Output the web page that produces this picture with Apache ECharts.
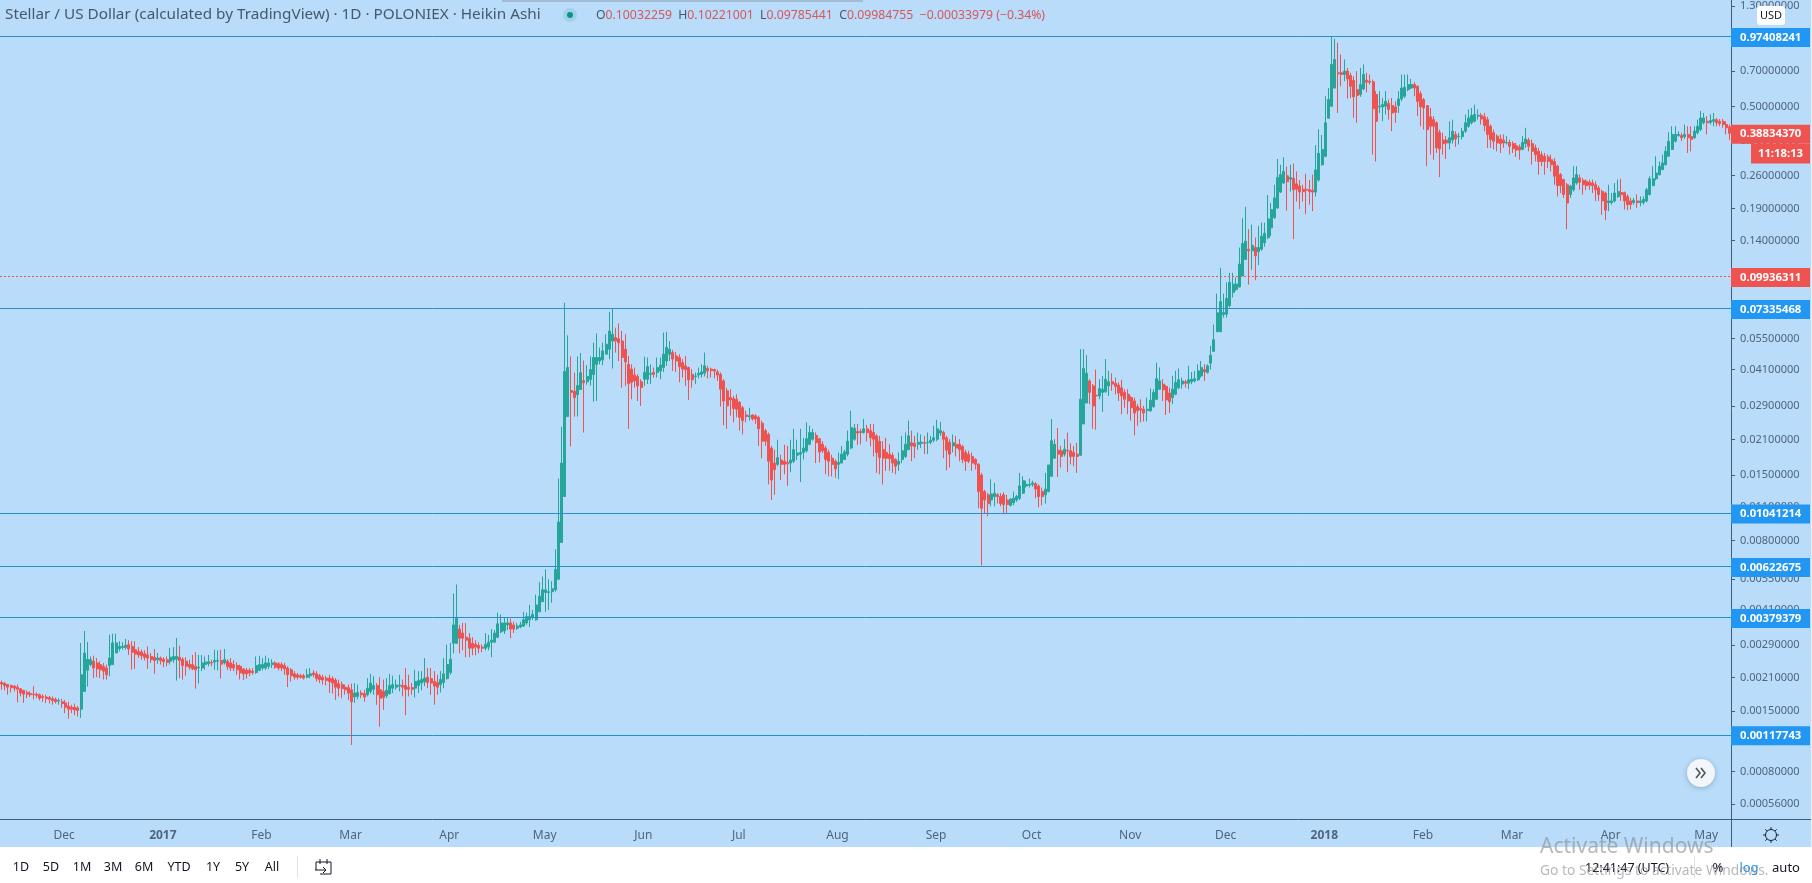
<!DOCTYPE html>
<html><head><meta charset="utf-8"><title>XLM/USD</title>
<style>html,body{margin:0;padding:0;background:#fff}#c{width:1812px;height:883px}</style>
<script src="https://cdn.jsdelivr.net/npm/echarts@6/dist/echarts.min.js"></script></head>
<body><div id="c"></div>
<script>
// every row: [open, close, low, high]
const nov2016=[[.00200,.00197,.00186,.00204],[.00199,.00194,.00185,.00200],[.00196,.00191,.00177,.00197],[.00194,.00190,.00181,.00196],[.00193,.00189,.00183,.00195],[.00191,.00187,.00164,.00196],[.00188,.00180,.00174,.00187],[.00185,.00178,.00163,.00186],[.00181,.00178,.00171,.00185],[.00179,.00177,.00173,.00183],[.00178,.00177,.00169,.00193],[.00178,.00176,.00171,.00181],[.00177,.00171,.00167,.00179],[.00174,.00172,.00165,.00178],[.00173,.00170,.00163,.00177],[.00172,.00169,.00162,.00175],[.00170,.00167,.00160,.00174],[.00169,.00165,.00162,.00172],[.00166,.00167,.00160,.00171],[.00165,.00162,.00155,.00170]];
const dec2016=[[.00163,.00156,.00147,.00168],[.00158,.00153,.00139,.00165],[.00156,.00153,.00147,.00160],[.00156,.00152,.00144,.00162],[.00155,.00151,.00142,.00158],[.00153,.00216,.00140,.00296],[.00183,.00268,.00183,.00333],[.00226,.00252,.00192,.00299],[.00239,.00251,.00235,.00259],[.00247,.00231,.00209,.00261],[.00243,.00229,.00211,.00255],[.00239,.00227,.00209,.00247],[.00235,.00224,.00206,.00243],[.00231,.00216,.00206,.00239],[.00237,.00255,.00213,.00321],[.00239,.00296,.00239,.00324],[.00268,.00296,.00268,.00324],[.00280,.00286,.00272,.00301],[.00283,.00286,.00277,.00298],[.00283,.00289,.00277,.00308],[.00291,.00279,.00263,.00304],[.00286,.00270,.00227,.00301],[.00277,.00265,.00229,.00301],[.00272,.00263,.00255,.00284],[.00271,.00261,.00251,.00277],[.00266,.00257,.00249,.00275],[.00263,.00255,.00229,.00286],[.00259,.00251,.00243,.00268],[.00257,.00249,.00218,.00279],[.00251,.00255,.00241,.00268],[.00255,.00249,.00239,.00259]];
const jan2017=[[.00252,.00246,.00233,.00257],[.00251,.00244,.00235,.00259],[.00247,.00257,.00239,.00282],[.00251,.00259,.00243,.00284],[.00252,.00259,.00204,.00311],[.00257,.00249,.00209,.00288],[.00252,.00237,.00206,.00257],[.00247,.00235,.00214,.00257],[.00240,.00233,.00227,.00251],[.00239,.00229,.00226,.00263],[.00235,.00227,.00188,.00270],[.00231,.00233,.00198,.00263],[.00231,.00243,.00224,.00263],[.00239,.00245,.00227,.00259],[.00241,.00246,.00235,.00263],[.00244,.00243,.00235,.00251],[.00245,.00249,.00227,.00277],[.00247,.00249,.00226,.00275],[.00249,.00240,.00208,.00277],[.00243,.00251,.00239,.00279],[.00247,.00234,.00226,.00252],[.00243,.00231,.00224,.00255],[.00239,.00231,.00224,.00249],[.00237,.00227,.00216,.00244],[.00235,.00220,.00206,.00239],[.00229,.00218,.00205,.00231],[.00226,.00218,.00208,.00231],[.00226,.00220,.00213,.00231],[.00224,.00221,.00216,.00231],[.00221,.00237,.00218,.00259],[.00226,.00239,.00224,.00261]];
const feb2017=[[.00231,.00239,.00226,.00255],[.00231,.00243,.00227,.00261],[.00235,.00243,.00229,.00255],[.00239,.00243,.00231,.00252],[.00243,.00233,.00229,.00247],[.00241,.00231,.00226,.00245],[.00239,.00231,.00224,.00245],[.00237,.00229,.00216,.00243],[.00231,.00216,.00191,.00235],[.00227,.00214,.00202,.00231],[.00218,.00211,.00206,.00224],[.00216,.00211,.00206,.00220],[.00214,.00211,.00208,.00218],[.00214,.00209,.00206,.00218],[.00211,.00216,.00209,.00229],[.00214,.00218,.00209,.00231],[.00220,.00216,.00211,.00226],[.00218,.00208,.00202,.00224],[.00214,.00206,.00199,.00218],[.00211,.00205,.00196,.00216],[.00209,.00204,.00194,.00214],[.00209,.00202,.00180,.00216],[.00208,.00199,.00179,.00213],[.00205,.00191,.00168,.00209],[.00198,.00189,.00174,.00206],[.00196,.00188,.00171,.00202],[.00191,.00186,.00177,.00196],[.00190,.00180,.00168,.00196]];
const mar2017=[[.00186,.00165,.00106,.00198],[.00173,.00180,.00163,.00199],[.00174,.00181,.00169,.00196],[.00180,.00177,.00171,.00185],[.00179,.00173,.00165,.00186],[.00177,.00189,.00174,.00209],[.00183,.00199,.00179,.00218],[.00187,.00194,.00177,.00213],[.00194,.00177,.00160,.00199],[.00186,.00171,.00128,.00211],[.00183,.00172,.00152,.00206],[.00175,.00185,.00171,.00209],[.00179,.00194,.00177,.00218],[.00189,.00196,.00180,.00214],[.00191,.00195,.00186,.00206],[.00193,.00195,.00183,.00216],[.00194,.00191,.00174,.00206],[.00194,.00187,.00144,.00231],[.00191,.00187,.00174,.00216],[.00190,.00187,.00177,.00199],[.00189,.00202,.00172,.00227],[.00194,.00204,.00180,.00224],[.00199,.00206,.00185,.00224],[.00201,.00209,.00193,.00255],[.00211,.00200,.00189,.00231],[.00208,.00199,.00177,.00231],[.00202,.00193,.00160,.00224],[.00200,.00191,.00177,.00216],[.00196,.00206,.00181,.00224],[.00200,.00218,.00189,.00255],[.00208,.00239,.00206,.00291]];
const apr2017=[[.00221,.00252,.00216,.00296],[.00295,.00353,.00267,.00479],[.00295,.00379,.00295,.00523],[.00339,.00310,.00267,.00353],[.00326,.00310,.00275,.00360],[.00313,.00304,.00257,.00360],[.00310,.00281,.00257,.00326],[.00295,.00281,.00262,.00313],[.00292,.00284,.00262,.00304],[.00289,.00281,.00267,.00298],[.00284,.00281,.00270,.00292],[.00281,.00292,.00275,.00326],[.00284,.00298,.00275,.00320],[.00298,.00304,.00257,.00339],[.00298,.00326,.00298,.00336],[.00313,.00357,.00310,.00398],[.00330,.00360,.00326,.00391],[.00333,.00360,.00323,.00379],[.00353,.00360,.00336,.00379],[.00360,.00339,.00310,.00375],[.00353,.00339,.00326,.00364],[.00342,.00349,.00336,.00360],[.00346,.00353,.00342,.00364],[.00349,.00371,.00346,.00401],[.00360,.00383,.00353,.00398],[.00371,.00383,.00346,.00429],[.00379,.00391,.00371,.00409],[.00371,.00429,.00368,.00474],[.00401,.00466,.00401,.00535],[.00443,.00497,.00443,.00565]];
const may2017=[[.00484,.00497,.00401,.00605],[.00484,.00488,.00409,.00550],[.00488,.00502,.00438,.00540],[.00497,.00605,.00488,.00735],[.00550,.00955,.00550,.0145],[.00785,.0168,.00785,.0238],[.0122,.0403,.0122,.0775],[.0262,.0418,.0262,.0568],[.0336,.0330,.0197,.0465],[.0333,.0314,.0262,.0398],[.0323,.0352,.0262,.0465],[.0339,.0398,.0339,.0480],[.0369,.0362,.0225,.0447],[.0365,.0384,.0355,.0428],[.0373,.0410,.0352,.0465],[.0391,.0460,.0302,.0530],[.0431,.0460,.0304,.0578],[.0445,.0460,.0431,.0506],[.0450,.0490,.0428,.0530],[.0475,.0522,.0475,.0574],[.0498,.0592,.0453,.0710],[.0538,.0574,.0414,.0732],[.0556,.0538,.0482,.0611],[.0550,.0530,.0445,.0637],[.0538,.0460,.0345,.0592],[.0498,.0441,.0351,.0574],[.0431,.0359,.0233,.0467],[.0412,.0363,.0309,.0431],[.0389,.0368,.0345,.0418],[.0384,.0351,.0304,.0392],[.0365,.0345,.0290,.0374]];
const jun2017=[[.0374,.0399,.0351,.0464],[.0374,.0422,.0357,.0460],[.0392,.0395,.0357,.0431],[.0399,.0392,.0380,.0418],[.0399,.0418,.0380,.0460],[.0405,.0428,.0374,.0460],[.0418,.0475,.0401,.0583],[.0445,.0506,.0425,.0587],[.0475,.0498,.0445,.0538],[.0482,.0453,.0405,.0495],[.0467,.0445,.0401,.0485],[.0460,.0422,.0363,.0475],[.0438,.0412,.0380,.0453],[.0425,.0410,.0351,.0467],[.0418,.0372,.0307,.0422],[.0392,.0372,.0345,.0412],[.0384,.0386,.0357,.0399],[.0389,.0396,.0377,.0418],[.0392,.0401,.0380,.0431],[.0396,.0425,.0384,.0482],[.0414,.0405,.0377,.0425],[.0412,.0406,.0380,.0418],[.0410,.0404,.0377,.0414],[.0401,.0389,.0368,.0410],[.0392,.0340,.0288,.0399],[.0368,.0304,.0241,.0374],[.0335,.0290,.0233,.0345],[.0314,.0307,.0264,.0340],[.0311,.0283,.0248,.0319],[.0309,.0281,.0260,.0324]];
const jul2017=[[.0300,.0260,.0229,.0304],[.0285,.0252,.0221,.0290],[.0266,.0262,.0248,.0277],[.0262,.0264,.0252,.0285],[.0266,.0256,.0252,.0268],[.0264,.0256,.0244,.0268],[.0260,.0233,.0198,.0264],[.0246,.0207,.0176,.0252],[.0229,.0207,.0198,.0233],[.0221,.0171,.0137,.0225],[.0194,.0143,.0118,.0198],[.0168,.0158,.0124,.0191],[.0166,.0177,.0163,.0210],[.0173,.0166,.0143,.0182],[.0171,.0166,.0151,.0200],[.0169,.0167,.0135,.0198],[.0168,.0173,.0154,.0210],[.0171,.0191,.0168,.0233],[.0181,.0185,.0173,.0210],[.0183,.0186,.0140,.0233],[.0186,.0194,.0174,.0214],[.0189,.0212,.0186,.0248],[.0201,.0225,.0199,.0240],[.0211,.0225,.0208,.0233],[.0219,.0204,.0168,.0225],[.0212,.0187,.0169,.0214],[.0201,.0189,.0185,.0207],[.0194,.0174,.0151,.0198],[.0186,.0171,.0148,.0191],[.0176,.0166,.0148,.0182],[.0171,.0159,.0146,.0174]];
const aug2017=[[.0166,.0169,.0144,.0186],[.0168,.0183,.0168,.0198],[.0174,.0187,.0173,.0191],[.0183,.0207,.0179,.0229],[.0194,.0236,.0192,.0277],[.0211,.0234,.0208,.0244],[.0227,.0224,.0200,.0244],[.0227,.0225,.0201,.0233],[.0225,.0233,.0223,.0256],[.0233,.0225,.0207,.0242],[.0229,.0214,.0197,.0244],[.0225,.0211,.0179,.0244],[.0218,.0186,.0153,.0221],[.0207,.0177,.0151,.0218],[.0191,.0176,.0137,.0207],[.0186,.0176,.0156,.0214],[.0183,.0175,.0156,.0201],[.0181,.0168,.0153,.0186],[.0174,.0163,.0151,.0176],[.0166,.0171,.0156,.0186],[.0174,.0189,.0168,.0218],[.0179,.0201,.0176,.0225],[.0191,.0218,.0190,.0252],[.0204,.0198,.0171,.0229],[.0203,.0197,.0176,.0218],[.0201,.0205,.0191,.0225],[.0203,.0205,.0194,.0221],[.0204,.0203,.0183,.0218],[.0204,.0205,.0183,.0225],[.0205,.0209,.0201,.0218],[.0209,.0214,.0205,.0240]];
const sep2017=[[.0211,.0233,.0207,.0254],[.0224,.0229,.0218,.0249],[.0225,.0211,.0176,.0229],[.0214,.0190,.0157,.0218],[.0205,.0183,.0161,.0211],[.0198,.0204,.0186,.0221],[.0201,.0194,.0179,.0218],[.0201,.0191,.0171,.0211],[.0197,.0174,.0168,.0200],[.0186,.0171,.0156,.0191],[.0183,.0171,.0168,.0189],[.0179,.0168,.0156,.0186],[.0174,.0166,.0158,.0176],[.0166,.0128,.0109,.0168],[.0150,.0109,.00630,.0153],[.0128,.0118,.0104,.0130],[.0124,.0114,.0101,.0126],[.0118,.0125,.0111,.0144],[.0122,.0126,.0111,.0139],[.0124,.0122,.0114,.0126],[.0122,.0114,.0111,.0126],[.0124,.0113,.0103,.0127],[.0118,.0113,.0104,.0124],[.0112,.0119,.0111,.0120],[.0115,.0120,.0112,.0128],[.0118,.0122,.0116,.0124],[.0120,.0135,.0118,.0153],[.0126,.0142,.0125,.0148],[.0135,.0137,.0133,.0142],[.0136,.0137,.0133,.0145]];
const oct2017=[[.0137,.0139,.0134,.0142],[.0138,.0131,.0120,.0140],[.0135,.0122,.0110,.0137],[.0128,.0122,.0112,.0133],[.0124,.0131,.0114,.0153],[.0128,.0165,.0127,.0165],[.0148,.0208,.0148,.0256],[.0176,.0201,.0175,.0211],[.0190,.0183,.0147,.0235],[.0189,.0179,.0161,.0198],[.0183,.0192,.0179,.0211],[.0190,.0189,.0154,.0225],[.0189,.0179,.0166,.0203],[.0186,.0179,.0163,.0198],[.0183,.0179,.0153,.0204],[.0181,.0309,.0181,.0498],[.0244,.0414,.0244,.0498],[.0298,.0396,.0298,.0470],[.0368,.0330,.0295,.0374],[.0351,.0290,.0233,.0357],[.0321,.0319,.0231,.0410],[.0319,.0342,.0309,.0374],[.0330,.0340,.0274,.0386],[.0332,.0374,.0328,.0453],[.0351,.0365,.0319,.0405],[.0365,.0357,.0335,.0396],[.0360,.0349,.0324,.0380],[.0354,.0328,.0304,.0363],[.0345,.0319,.0268,.0372],[.0330,.0309,.0285,.0340],[.0324,.0304,.0268,.0340]];
const nov2017=[[.0314,.0285,.0252,.0319],[.0304,.0271,.0219,.0314],[.0288,.0277,.0240,.0295],[.0283,.0279,.0248,.0309],[.0281,.0271,.0250,.0290],[.0277,.0281,.0250,.0314],[.0277,.0306,.0274,.0342],[.0288,.0330,.0285,.0340],[.0309,.0376,.0307,.0438],[.0340,.0368,.0338,.0418],[.0357,.0338,.0304,.0374],[.0349,.0307,.0266,.0354],[.0328,.0302,.0271,.0345],[.0314,.0340,.0295,.0386],[.0324,.0363,.0321,.0405],[.0345,.0372,.0340,.0414],[.0357,.0368,.0342,.0380],[.0365,.0360,.0345,.0372],[.0360,.0372,.0340,.0425],[.0365,.0374,.0357,.0401],[.0368,.0376,.0363,.0405],[.0372,.0405,.0368,.0431],[.0386,.0418,.0380,.0445],[.0410,.0401,.0368,.0431],[.0399,.0425,.0395,.0431],[.0436,.0470,.0410,.0514],[.0488,.0545,.0488,.0630],[.0588,.0704,.0588,.0845],[.0588,.0783,.0588,.108],[.0692,.0706,.0673,.0845]];
const dec2017=[[.0695,.0807,.0673,.094],[.0753,.094,.0741,.103],[.0855,.0925,.0815,.103],[.088,.0925,.0867,.0985],[.090,.112,.0895,.131],[.100,.136,.100,.173],[.117,.139,.117,.193],[.129,.127,.092,.156],[.127,.134,.106,.163],[.131,.121,.096,.144],[.126,.131,.111,.161],[.129,.146,.127,.166],[.137,.150,.132,.166],[.144,.172,.142,.216],[.158,.188,.146,.200],[.174,.210,.172,.238],[.191,.255,.189,.304],[.222,.262,.220,.288],[.242,.270,.240,.309],[.259,.245,.186,.283],[.251,.255,.223,.288],[.253,.227,.142,.291],[.240,.228,.203,.270],[.235,.222,.189,.249],[.228,.223,.203,.238],[.228,.226,.180,.264],[.227,.223,.197,.249],[.226,.222,.185,.262],[.222,.274,.213,.347],[.249,.321,.245,.403],[.288,.333,.285,.382]];
const jan2018=[[.312,.429,.309,.552],[.448,.535,.448,.597],[.502,.747,.499,.974],[.597,.783,.593,.953],[.690,.683,.471,.917],[.690,.679,.607,.821],[.679,.701,.637,.783],[.701,.651,.540,.723],[.672,.607,.543,.690],[.641,.549,.449,.668],[.588,.556,.429,.701],[.561,.617,.549,.723],[.592,.679,.584,.747],[.643,.631,.574,.690],[.637,.631,.617,.679],[.633,.490,.317,.647],[.561,.435,.297,.579],[.499,.502,.471,.579],[.499,.510,.435,.543],[.502,.526,.464,.579],[.515,.487,.442,.535],[.505,.471,.396,.543],[.499,.474,.429,.526],[.505,.538,.471,.579],[.538,.597,.526,.679],[.552,.601,.543,.679],[.588,.617,.579,.679],[.597,.617,.592,.651],[.617,.597,.552,.631],[.607,.526,.457,.611],[.566,.499,.415,.579]];
const feb2018=[[.535,.494,.402,.543],[.505,.402,.284,.505],[.454,.415,.317,.494],[.442,.415,.302,.457],[.429,.338,.322,.435],[.392,.335,.256,.402],[.364,.352,.317,.390],[.364,.354,.304,.378],[.354,.372,.333,.435],[.364,.396,.352,.442],[.384,.368,.341,.396],[.376,.378,.349,.390],[.376,.396,.366,.409],[.396,.429,.390,.464],[.415,.449,.409,.487],[.429,.460,.422,.494],[.435,.464,.431,.510],[.457,.460,.442,.487],[.460,.445,.422,.471],[.454,.418,.396,.471],[.442,.384,.338,.454],[.415,.366,.338,.422],[.390,.360,.333,.402],[.378,.354,.327,.384],[.368,.352,.322,.384],[.364,.354,.338,.384],[.354,.356,.349,.378],[.356,.343,.317,.366]];
const mar2018=[[.352,.335,.322,.360],[.345,.331,.310,.354],[.341,.331,.302,.349],[.333,.356,.331,.378],[.352,.368,.338,.409],[.364,.343,.327,.372],[.352,.327,.288,.366],[.338,.317,.297,.349],[.327,.297,.262,.338],[.317,.297,.284,.327],[.312,.297,.262,.322],[.310,.297,.279,.317],[.302,.288,.270,.317],[.297,.258,.238,.307],[.284,.236,.213,.288],[.262,.236,.220,.266],[.250,.217,.210,.252],[.238,.200,.156,.242],[.217,.235,.210,.238],[.227,.254,.223,.284],[.242,.262,.238,.284],[.254,.244,.227,.262],[.248,.238,.217,.254],[.246,.236,.226,.250],[.244,.237,.227,.250],[.242,.236,.220,.250],[.238,.227,.204,.246],[.231,.217,.204,.236],[.223,.204,.179,.227],[.220,.187,.170,.223],[.201,.204,.185,.238]];
const apr2018=[[.201,.204,.197,.220],[.204,.220,.201,.242],[.213,.223,.210,.250],[.221,.217,.204,.252],[.221,.204,.188,.223],[.213,.197,.187,.217],[.204,.197,.188,.210],[.201,.205,.197,.210],[.204,.201,.191,.217],[.201,.204,.194,.213],[.201,.207,.197,.213],[.204,.227,.201,.231],[.217,.252,.215,.258],[.236,.252,.235,.284],[.252,.266,.248,.312],[.262,.284,.260,.297],[.275,.293,.273,.317],[.288,.327,.286,.343],[.312,.360,.310,.392],[.333,.384,.331,.415],[.360,.384,.356,.415],[.380,.384,.376,.396],[.380,.372,.360,.390],[.376,.384,.368,.422],[.384,.372,.322,.415],[.376,.366,.327,.415],[.372,.396,.368,.415],[.390,.415,.384,.442],[.402,.449,.396,.480],[.429,.449,.422,.471]];
const may2018=[[.435,.429,.384,.457],[.431,.438,.422,.464],[.435,.442,.415,.471],[.442,.429,.415,.449],[.435,.426,.415,.445],[.435,.422,.409,.445],[.422,.409,.384,.435],[.413,.3883,.364,.422]];
const priceTicks=[1.3,.7,.5,.36,.26,.19,.14,.1,.075,.055,.041,.029,.021,.015,.011,.008,.0055,.0041,.0029,.0021,.0015,.0011,.0008,.00056];
const levelLines=[.97408241,.07335468,.01041214,.00622675,.00379379,.00117743];
const lastPrice=.38834370, crossPrice=.09936311;
const monthNames=['2018','Feb','Mar','Apr','May','Jun','Jul','Aug','Sep','Oct','Nov','Dec'];

const PRICE_OFFSET=.0001; // the log scale of the source platform adds this constant
const shift=v=>v+PRICE_OFFSET;
const candles=[].concat(nov2016,dec2016,jan2017,feb2017,mar2017,apr2017,may2017,jun2017,jul2017,aug2017,sep2017,oct2017,nov2017,dec2017,jan2018,feb2018,mar2018,apr2018,may2018);
const categories=candles.map((_,i)=>new Date(Date.UTC(2016,10,11+i)).toISOString().slice(0,10));
const isMonthStart=i=>categories[i].slice(8)==='01';
const monthLabel=s=>{const m=+s.slice(5,7);return m===1?'{y|'+s.slice(0,4)+'}':monthNames[m-1]};

const FONT='"Noto Sans",sans-serif', UP='#26a69a', DOWN='#ef5350', BLUE='#2196f3', LEVEL='#2d8ccb', AX='#3f5d7c', TXT='#50657d';
const tag=(v,col,txt,line)=>({name:txt,yAxis:shift(v),lineStyle:line,label:{show:true,position:'end',distance:0,offset:[0,1],formatter:'{b}',color:'#fff',fontFamily:FONT,fontSize:11.3,fontWeight:'bold',backgroundColor:col,padding:[3,0,3,9],width:70,height:13,lineHeight:13}});
const txt=(x,y,t,o={})=>({type:'text',x,y,z:30,silent:true,style:Object.assign({text:t,fill:'#131722',font:'12.5px '+FONT,textVerticalAlign:'middle'},o)});
const seg=(x1,y1,x2,y2,c,z)=>({type:'line',z:z||30,silent:true,shape:{x1,y1,x2,y2},style:{stroke:c,lineWidth:1}});
const toolbar=[['1D',21],['5D',51],['1M',82],['3M',113],['6M',144],['YTD',179],['1Y',213],['5Y',242],['All',272]];

const chart=echarts.init(document.getElementById('c'),null,{renderer:'canvas'});
chart.setOption({
 animation:false,
 backgroundColor:'#b8dcf9',
 title:[
  {text:'Stellar / US Dollar (calculated by TradingView) · 1D · POLONIEX · Heikin Ashi',left:5,top:7,padding:0,textStyle:{fontFamily:FONT,fontSize:15.3,fontWeight:'normal',color:'#47586b'}},
  {text:'O{r|0.10032259}  H{r|0.10221001}  L{r|0.09785441}  C{r|0.09984755}  {r|−0.00033979 (−0.34%)}',left:596,top:10,padding:0,textStyle:{fontFamily:FONT,fontSize:12.25,fontWeight:'normal',color:'#47586b',rich:{r:{fontFamily:FONT,fontSize:12.25,color:'#d9565a'}}}}
 ],
 grid:{left:-3,right:81,top:0,bottom:64,containLabel:false},
 xAxis:{type:'category',data:categories,boundaryGap:true,
  axisLine:{lineStyle:{color:AX,width:1}},
  axisTick:{alignWithLabel:true,length:3,lineStyle:{color:AX},interval:(i)=>isMonthStart(i)},
  axisLabel:{interval:(i)=>isMonthStart(i),formatter:monthLabel,color:TXT,fontFamily:FONT,fontSize:12,margin:11,padding:[0,2,0,0],hideOverlap:false,
   rich:{y:{fontWeight:'bold',color:TXT,fontFamily:FONT,fontSize:12}}},
  splitLine:{show:false}},
 yAxis:{type:'log',logBase:10,position:'right',min:.000574,max:1.3782,scale:true,
  axisLine:{show:true,lineStyle:{color:AX,width:1}},
  axisTick:{show:true,length:4,lineStyle:{color:AX},customValues:priceTicks.map(shift)},
  axisLabel:{color:TXT,fontFamily:FONT,fontSize:11,margin:9,customValues:priceTicks.map(shift),formatter:v=>(v-PRICE_OFFSET).toFixed(8)},
  splitLine:{show:false},minorTick:{show:false}},
 series:[{type:'candlestick',name:'XLM/USD',barWidth:2.5,data:candles.map(r=>r.map(shift)),
  itemStyle:{color:UP,color0:DOWN,borderColor:UP,borderColor0:DOWN,borderColorDoji:DOWN,borderWidth:1},
  markLine:{silent:true,symbol:'none',animation:false,precision:8,
   lineStyle:{type:'solid',width:1},
   data:[...levelLines.map(v=>tag(v,BLUE,v.toFixed(8),{color:LEVEL})),
    tag(crossPrice,DOWN,crossPrice.toFixed(8),{color:DOWN,type:[2,2],width:1}),
    tag(lastPrice,DOWN,lastPrice.toFixed(8),{color:'rgba(0,0,0,0)'})]}
 }],
 graphic:[
  {type:'rect',z:20,silent:true,shape:{x:0,y:847,width:1812,height:36},style:{fill:'#fff'}},
  {type:'rect',z:20,silent:true,shape:{x:1811,y:0,width:1,height:847},style:{fill:'#e4f1fc'}},
  {type:'rect',z:4,silent:true,shape:{x:502,y:0,width:361,height:2},style:{fill:'rgba(120,130,145,.35)'}},
  seg(1731.5,819,1731.5,847,AX,20),
  seg(1731,819.5,1811,819.5,AX,20),
  {type:'circle',z:20,silent:true,shape:{cx:570,cy:15,r:7},style:{fill:'rgba(38,166,154,.16)'}},
  {type:'circle',z:21,silent:true,shape:{cx:570,cy:15,r:3},style:{fill:'#0b9488'}},
  {type:'rect',z:22,silent:true,shape:{x:1757,y:6,width:28,height:19,r:3},style:{fill:'#fff'}},
  txt(1771,15.5,'USD',{textAlign:'center',font:'11px '+FONT,fill:'#131722'}),
  {type:'rect',z:22,silent:true,shape:{x:1751,y:144,width:59,height:19.5},style:{fill:DOWN}},
  txt(1780.5,153.5,'11:18:13',{textAlign:'center',font:'bold 11.3px '+FONT,fill:'#fff'}),
  {type:'circle',z:22,silent:true,shape:{cx:1701,cy:773,r:14},style:{fill:'#f1f6fa',shadowBlur:5,shadowColor:'rgba(60,80,100,.35)',shadowOffsetY:1}},
  {type:'polyline',z:23,silent:true,shape:{points:[[1696,768],[1700,773],[1696,778]]},style:{stroke:'#50535e',fill:null,lineWidth:1.6}},
  {type:'polyline',z:23,silent:true,shape:{points:[[1701,768],[1705,773],[1701,778]]},style:{stroke:'#50535e',fill:null,lineWidth:1.6}},
  {type:'circle',z:23,silent:true,shape:{cx:1771,cy:835,r:5.5},style:{fill:null,stroke:'#1a2430',lineWidth:1}},
  ...[[1771,827,1771,829.5],[1771,840.5,1771,843],[1763,835,1765.5,835],[1776.5,835,1779,835],[1765.3,829.3,1767.1,831.1],[1774.9,838.9,1776.7,840.7],[1776.7,829.3,1774.9,831.1],[1767.1,838.9,1765.3,840.7]].map(a=>seg(a[0],a[1],a[2],a[3],'#1a2430',23)),
  ...toolbar.map(t=>txt(t[1],867,t[0],{textAlign:'center',font:'12.5px '+FONT})),
  seg(297.5,856,297.5,878,'#e0e3eb'),
  {type:'polyline',z:30,silent:true,shape:{points:[[316,870],[316,862],[331,862],[331,874],[320,874]]},style:{stroke:'#131722',fill:null,lineWidth:1}},
  seg(320,859,320,864,'#131722'),seg(327,859,327,864,'#131722'),seg(315,870,326,870,'#131722'),
  {type:'polyline',z:30,silent:true,shape:{points:[[323,867],[326,870],[323,873]]},style:{stroke:'#131722',fill:null,lineWidth:1}},
  txt(1585,868,'12:41:47 (UTC)',{font:'12.5px '+FONT}),
  seg(1694.5,856,1694.5,878,'#e0e3eb'),
  txt(1718,868,'%',{textAlign:'center',font:'13px '+FONT}),
  txt(1749,868,'log',{textAlign:'center',font:'13px '+FONT,fill:BLUE}),
  txt(1786,868,'auto',{textAlign:'center',font:'13px '+FONT}),
  txt(1540,847,'Activate Windows',{font:'21px '+FONT,fill:'rgba(140,140,140,.62)'}),
  txt(1540,871,'Go to Settings to activate Windows.',{font:'13.8px '+FONT,fill:'rgba(140,140,140,.62)'})
 ]
});
</script></body></html>
